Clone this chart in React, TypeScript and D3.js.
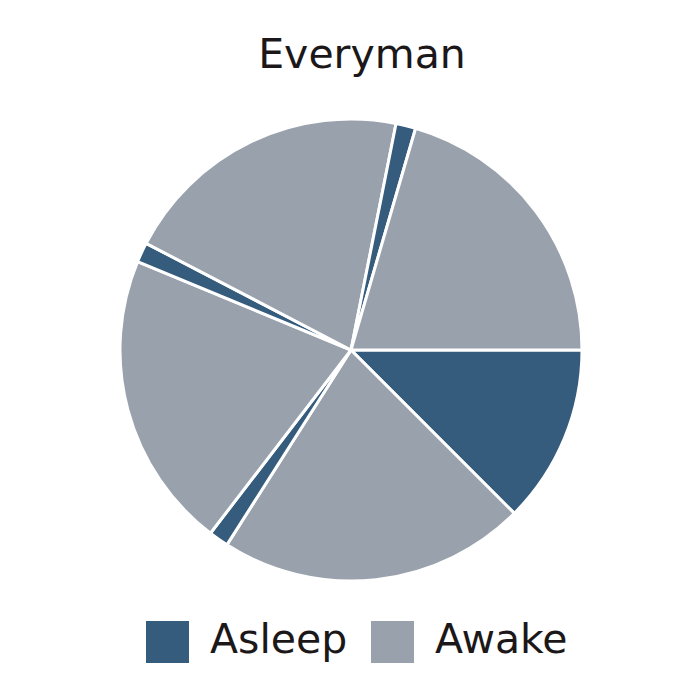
import * as d3 from "d3";

// Everyman schedule, minutes per block, clockwise from 3 o'clock
const blocks = ["Core", "Awake", "Nap", "Awake", "Nap", "Awake", "Nap", "Awake"];
const states = ["Asleep", "Awake", "Asleep", "Awake", "Asleep", "Awake", "Asleep", "Awake"];
const minutes = [180, 310, 20, 300, 20, 295, 20, 295];
const legendLabels = ["Asleep", "Awake"];

const color = d3.scaleOrdinal<string, string>()
  .domain(legendLabels)
  .range(["#355c7d", "#98a1ac"]);

export default function App() {
  const width = 700;
  const height = 700;
  const cx = 351;
  const cy = 350;
  const radius = 231;

  const data = blocks.map((b, i) => ({ block: b, state: states[i], value: minutes[i] }));

  const pie = d3.pie<any>()
    .sort(null)
    .value((d: any) => d.value)
    .startAngle(Math.PI / 2)
    .endAngle(Math.PI / 2 + 2 * Math.PI);

  const arc = d3.arc<any>().innerRadius(0).outerRadius(radius);

  const font = "'DejaVu Sans', sans-serif";

  return (
    <svg
      width={width}
      height={height}
      style={{ position: "absolute", top: 0, left: 0, background: "#fff" }}
    >
      <text
        x={362}
        y={68}
        textAnchor="middle"
        fontFamily={font}
        fontSize={41}
        fill="#1c1819"
      >
        Everyman
      </text>
      <g transform={`translate(${cx},${cy})`}>
        {pie(data).map((d: any, i: number) => (
          <path
            key={i}
            d={arc(d) as string}
            fill={color(d.data.state)}
            stroke="#ffffff"
            strokeWidth={3}
            strokeLinejoin="round"
          />
        ))}
      </g>
      <g>
        {legendLabels.map((l, i) => {
          const x0 = i === 0 ? 146 : 371;
          return (
            <g key={l}>
              <rect x={x0} y={621} width={43} height={42} fill={color(l)} />
              <text
                x={x0 + 64}
                y={653}
                fontFamily={font}
                fontSize={41}
                fill="#1c1819"
              >
                {l}
              </text>
            </g>
          );
        })}
      </g>
    </svg>
  );
}
